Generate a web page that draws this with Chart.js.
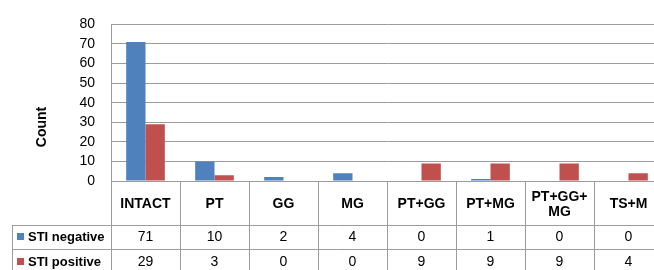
<!DOCTYPE html>
<html>
<head>
<meta charset="utf-8">
<script src="https://cdn.jsdelivr.net/npm/chart.js@4/dist/chart.umd.min.js"></script>
<style>
  html, body { margin: 0; padding: 0; background: #fff; overflow: hidden; }
  #wrap { width: 672px; height: 270px; position: relative; }
</style>
</head>
<body>
<div id="wrap"><canvas id="chart"></canvas></div>
<script>
const categories   = ['INTACT', 'PT', 'GG', 'MG', 'PT+GG', 'PT+MG', ['PT+GG+', 'MG'], 'TS+M'];
const stiNegative  = [71, 10, 2, 4, 0, 1, 0, 0];
const stiPositive  = [29, 3, 0, 0, 9, 9, 9, 4];
const seriesNames  = ['STI negative', 'STI positive'];
const yTicks       = [0, 10, 20, 30, 40, 50, 60, 70, 80];

const BLUE  = '#4f81bd';
const RED   = '#c0504d';
const LINE  = '#9c9c9c';
const FONT  = '"Liberation Sans", Arial, Helvetica, sans-serif';

// draws the data table under the plot plus the rotated "Count" title
const tablePlugin = {
    id: 'dataTable',
    afterDraw(chart) {
        const ctx  = chart.ctx;
        const area = chart.chartArea;
        const x    = chart.scales.x;
        const n    = categories.length;
        const colW = (area.right - area.left) / n;

        const hdrTop = area.bottom;
        const row1   = hdrTop + 44;
        const row2   = row1 + 24;
        const bottom = row2 + 26;
        const legL   = 12;

        ctx.save();
        ctx.strokeStyle = LINE;
        ctx.lineWidth   = 1;
        ctx.beginPath();
        // verticals
        for (let i = 0; i <= n; i++) {
            const px = Math.round(area.left + i * colW) + 0.5;
            ctx.moveTo(px, hdrTop);
            ctx.lineTo(px, bottom);
        }
        ctx.moveTo(legL + 0.5, row1);
        ctx.lineTo(legL + 0.5, bottom);
        // horizontals
        ctx.moveTo(legL, row1 + 0.5);
        ctx.lineTo(area.right, row1 + 0.5);
        ctx.moveTo(legL, row2 + 0.5);
        ctx.lineTo(area.right, row2 + 0.5);
        ctx.stroke();

        ctx.fillStyle    = '#000';
        ctx.textAlign    = 'center';
        ctx.textBaseline = 'middle';

        // header labels
        ctx.font = 'bold 14px ' + FONT;
        categories.forEach((c, i) => {
            const cx = x.getPixelForValue(i);
            const cy = (hdrTop + row1) / 2 + 1;
            if (Array.isArray(c)) {
                ctx.fillText(c[0], cx, cy - 7);
                ctx.fillText(c[1], cx, cy + 8);
            } else {
                ctx.fillText(c, cx, cy);
            }
        });

        // values
        const rowMid = [row1 + 12, row2 + 13];
        ctx.font = '14px ' + FONT;
        [stiNegative, stiPositive].forEach((vals, r) => {
            vals.forEach((v, i) => ctx.fillText(String(v), x.getPixelForValue(i), rowMid[r]));
        });

        // legend keys
        ctx.textAlign = 'left';
        ctx.font = 'bold 13px ' + FONT;
        [BLUE, RED].forEach((col, r) => {
            const cy = rowMid[r];
            ctx.fillStyle = col;
            ctx.fillRect(17, cy - 4, 7, 7);
            ctx.fillStyle = '#000';
            ctx.fillText(seriesNames[r], 28, cy);
        });

        // axis title
        ctx.font = 'bold 14px ' + FONT;
        ctx.translate(42, 127);
        ctx.rotate(-Math.PI / 2);
        ctx.textAlign = 'center';
        ctx.fillText('Count', 0, 0);
        ctx.restore();
    }
};

new Chart(document.getElementById('chart'), {
    type: 'bar',
    data: {
        labels: categories,
        datasets: [
            { label: seriesNames[0], data: stiNegative, backgroundColor: BLUE },
            { label: seriesNames[1], data: stiPositive, backgroundColor: RED },
        ],
    },
    options: {
        responsive: true,
        maintainAspectRatio: false,
        animation: false,
        layout: { padding: { top: 19, bottom: 89, right: 9, left: 0 } },
        datasets: { bar: { categoryPercentage: 0.56, barPercentage: 1.0 } },
        plugins: {
            legend : { display: false },
            tooltip: { enabled: false },
        },
        scales: {
            x: { display: false },
            y: {
                min: 0,
                max: 80,
                afterFit(scale) { scale.width = 111; },
                afterBuildTicks(scale) { scale.ticks = yTicks.map(v => ({ value: v })); },
                border: { color: LINE, width: 1 },
                grid  : { color: LINE, drawTicks: false },
                ticks : { color: '#000', padding: 16, font: { family: FONT, size: 14 } },
            },
        },
    },
    plugins: [tablePlugin],
});
</script>
</body>
</html>
